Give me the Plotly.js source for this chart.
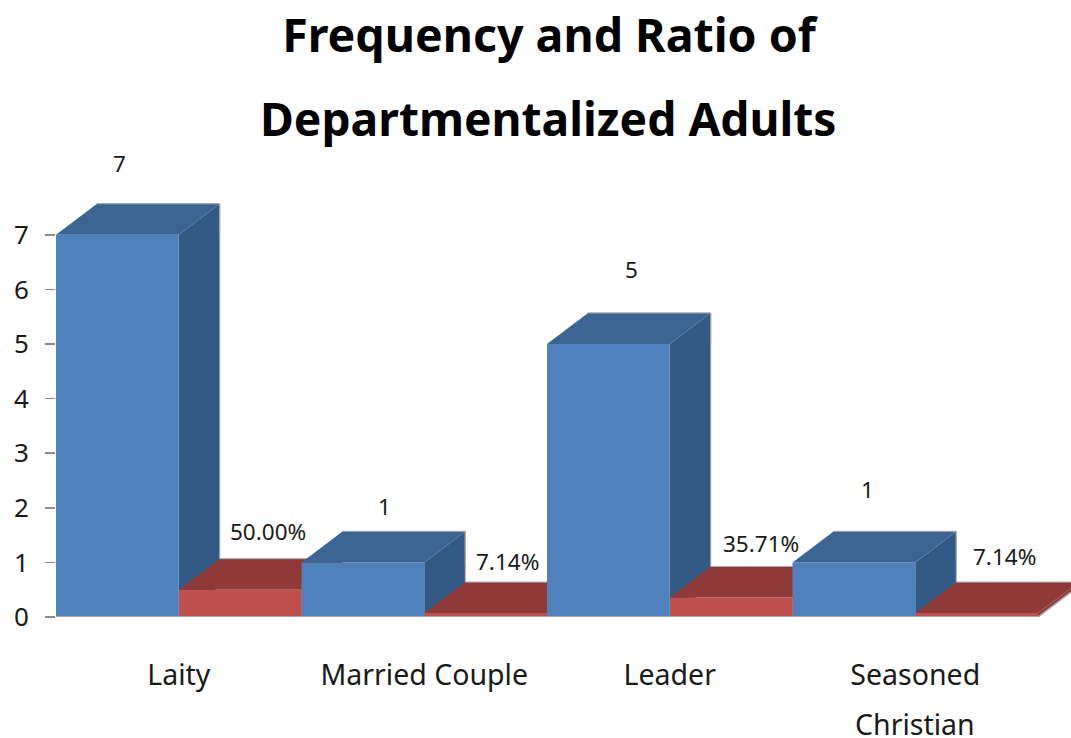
<!DOCTYPE html>
<html>
<head>
<meta charset="utf-8">
<script src="https://cdn.plot.ly/plotly-3.0.1.min.js"></script>
<style>html,body{margin:0;padding:0;background:#fff}#chart{width:1071px;height:738px}</style>
</head>
<body>
<div id="chart"></div>
<script>
// ---- data ----
const categories = ['Laity', 'Married Couple', 'Leader', 'Seasoned'];
const categorySecondLine = ['', '', '', 'Christian'];
const frequency = [7, 1, 5, 1];
const ratio = [0.5, 0.0714, 0.3571, 0.0714];
const yTicks = [0, 1, 2, 3, 4, 5, 6, 7];
const titleLines = ['Frequency and Ratio of', 'Departmentalized Adults'];

// ---- label nudges in pixels (the reference's labels were placed by hand) ----
const freqLabelShift = [[2, 71], [22, 56], [23, 75], [14, 73]];
const ratioLabelShift = [[28, 58], [22, 52], [30, 54], [28, 57]];

// ---- 3-D look ----
const FONT = '"Noto Sans", sans-serif';
const DX = 0.334, DY = 0.568;              // depth vector in data units
const C = {blue:'#4f81bd', blueTop:'#3d6594', blueSide:'#335a85',
           red:'#c0504d', redTop:'#8f3a38', edge:'#a9a9a9', ink:'#1a1a1a'};
const blueX = frequency.map((_, i) => 2 * i);
const redX = ratio.map((_, i) => 2 * i + 1);
const tickX = redX;

function poly(xs, ys, color, ax) {
  return {type:'scatter', mode:'lines', x:xs, y:ys, fill:'toself', fillcolor:color,
          line:{width:0, color:color}, hoverinfo:'skip', showlegend:false, xaxis:'x'+ax, yaxis:'y'+ax};
}
function topFace(x, v, color, ax) {
  return poly([x, x+1, x+1+DX, x+DX, x], [v, v, v+DY, v+DY, v], color, ax);
}
function sideFace(x, v, color, ax) {
  return poly([x+1, x+1+DX, x+1+DX, x+1, x+1], [0, DY, v+DY, v, 0], color, ax);
}
function edgeLine(xs, ys, ax, w) {
  return {type:'scatter', mode:'lines', x:xs, y:ys, line:{width:w||1, color:C.edge},
          hoverinfo:'skip', showlegend:false, xaxis:'x'+ax, yaxis:'y'+ax};
}
function backEdge(x, v, ax) {
  return edgeLine([x+DX, x+1+DX, x+1+DX], [v+DY, v+DY, DY], ax);
}

const traces = [];
// Layer 1: blue right sides (sit behind the red tops)
frequency.forEach((v, i) => traces.push(sideFace(blueX[i], v, C.blueSide, '')));
frequency.forEach((v, i) => traces.push(backEdge(blueX[i], v, '')));
traces.push(edgeLine([0, 0], [0, frequency[0]], '', 1.5));
// Layer 2: red bars, their sides and tops
traces.push({type:'bar', name:'Ratio', x:redX.map(x => x + 0.5), y:ratio, width:1,
             marker:{color:C.red, line:{width:0}}, hoverinfo:'skip', showlegend:false, xaxis:'x2', yaxis:'y2'});
ratio.forEach((v, i) => traces.push(sideFace(redX[i], v, C.redTop, '2')));
ratio.forEach((v, i) => traces.push(topFace(redX[i], v, C.redTop, '2')));
ratio.forEach((v, i) => traces.push(edgeLine([redX[i]+DX, redX[i]+1+DX], [v+DY, v+DY], '2')));
ratio.forEach((v, i) => traces.push(edgeLine([redX[i]+1, redX[i]+1+DX], [0, DY], '2', 1.5)));
// Layer 3: blue bars and their tops (they cover the red to their left)
traces.push({type:'bar', name:'Frequency', x:blueX.map(x => x + 0.5), y:frequency, width:1,
             marker:{color:C.blue, line:{width:0}}, hoverinfo:'skip', showlegend:false, xaxis:'x3', yaxis:'y3'});
frequency.forEach((v, i) => traces.push(topFace(blueX[i], v, C.blueTop, '3')));
frequency.forEach((v, i) => traces.push(edgeLine([blueX[i]+DX, blueX[i]+1+DX, blueX[i]+1+DX], [v+DY, v+DY, v], '3')));
traces.push(edgeLine([0, redX[3]+1], [0, 0], '3', 2));

const annotations = [];
const lab = (x, y, text, s) => ({x:x, y:y, text:text, showarrow:false, xref:'x', yref:'y',
    xshift:s[0], yshift:s[1], xanchor:'center', yanchor:'middle', font:{family:FONT, size:22.5, color:C.ink}});
frequency.forEach((v, i) => annotations.push(lab(blueX[i]+0.5, v, String(v), freqLabelShift[i])));
ratio.forEach((v, i) => annotations.push(lab(redX[i]+0.5, v, (v*100).toFixed(2)+'%', ratioLabelShift[i])));
categorySecondLine.forEach((t, i) => { if (t) annotations.push({x:tickX[i], y:0, xref:'x', yref:'y', text:t,
    showarrow:false, yshift:-107, xanchor:'center', yanchor:'middle', font:{family:FONT, size:28.5, color:C.ink}}); });
annotations.push({xref:'paper', yref:'paper', x:0.4855, y:1, yshift:22, text:'<b>'+titleLines[1]+'</b>',
    showarrow:false, xanchor:'center', yanchor:'middle', font:{family:FONT, size:46.2, color:'#000'}});

const XMAX = 1015 / 122.75, YMAX = (617 - 140) / 54.6;
const hidden = a => ({range:a, visible:false, fixedrange:true, showgrid:false, zeroline:false});
const layout = {
  width:1071, height:738, paper_bgcolor:'#fff', plot_bgcolor:'#fff',
  margin:{l:56, r:0, t:140, b:121}, showlegend:false, barmode:'overlay',
  title:{text:'<b>'+titleLines[0]+'</b>', x:0.5126, xanchor:'center', y:0.952, yanchor:'middle', yref:'container',
         font:{family:FONT, size:46.5, color:'#000'}},
  xaxis:{range:[0, XMAX], tickmode:'array', tickvals:tickX, ticktext:categories, ticks:'', ticklen:0,
         showgrid:false, zeroline:false, showline:false, automargin:false, ticklabelstandoff:38,
         tickfont:{family:FONT, size:28.5, color:C.ink}},
  yaxis:{range:[0, YMAX], tickmode:'array', tickvals:yTicks, ticktext:yTicks.map(String), ticks:'outside', ticklen:10,
         tickcolor:'#8c8c8c', tickwidth:1.5, showgrid:false, zeroline:false, showline:false, automargin:false,
         ticklabelstandoff:11, tickfont:{family:FONT, size:26, color:C.ink}},
  xaxis2:Object.assign(hidden([0, XMAX]), {overlaying:'x', matches:'x'}),
  yaxis2:Object.assign(hidden([0, YMAX]), {overlaying:'y', matches:'y'}),
  xaxis3:Object.assign(hidden([0, XMAX]), {overlaying:'x', matches:'x'}),
  yaxis3:Object.assign(hidden([0, YMAX]), {overlaying:'y', matches:'y'}),
  annotations:annotations
};
Plotly.newPlot('chart', traces, layout, {displayModeBar:false, staticPlot:true});
</script>
</body>
</html>
